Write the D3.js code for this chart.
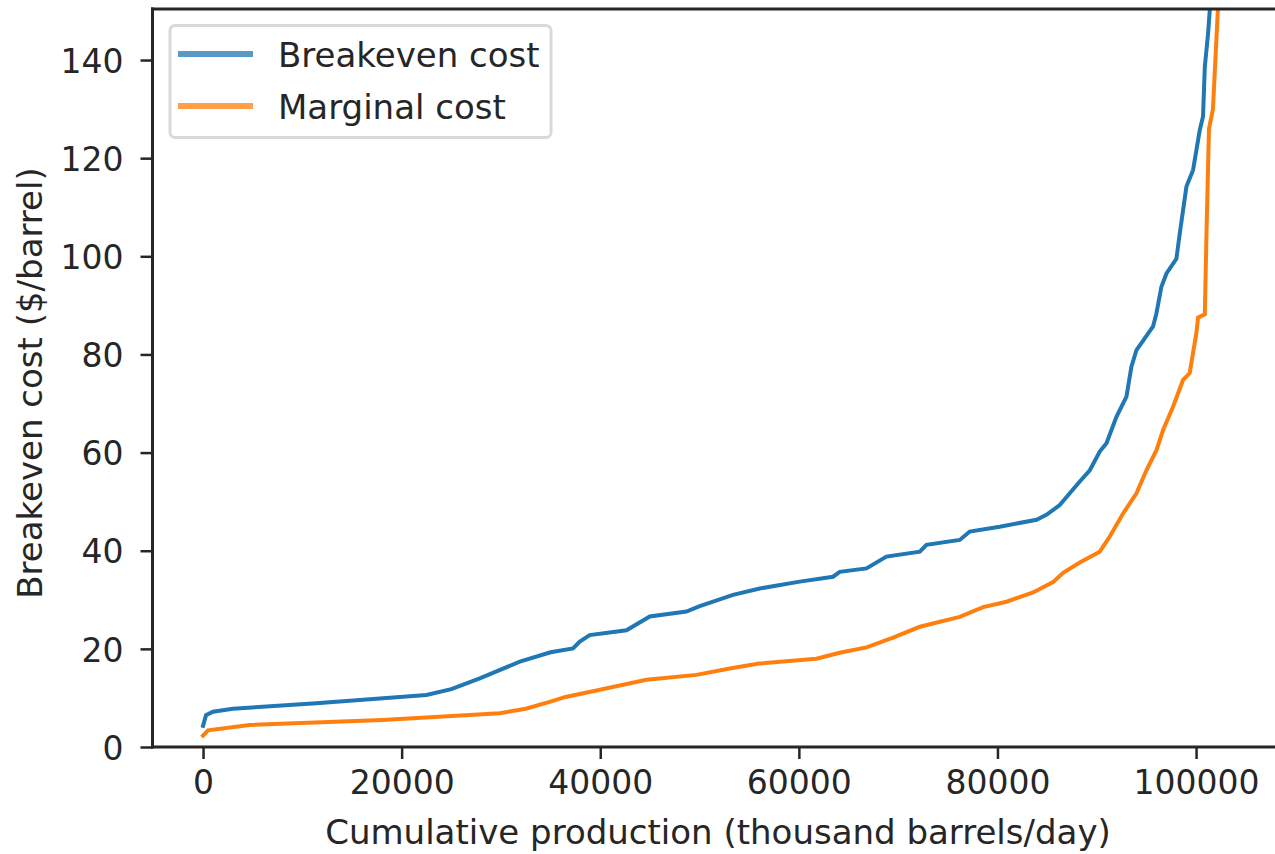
<!DOCTYPE html>
<html>
<head>
<meta charset="utf-8">
<script src="https://cdn.jsdelivr.net/npm/d3@7"></script>
<style>
  html, body { margin: 0; padding: 0; background: #fff; }
  svg { display: block; font-family: "DejaVu Sans", sans-serif; }
</style>
</head>
<body>
<svg id="chart" width="1275" height="854"></svg>
<script>
// Cumulative production (thousand barrels/day) and cost ($/barrel)
const breakevenX = [0, 300, 1000, 3000, 6000, 11400, 17800, 22500, 25000, 27870, 31900, 35000, 37260, 37940, 38940, 42640, 44990, 48680, 50020, 53370, 56060, 60090, 63440, 64120, 66810, 68820, 72180, 72850, 76200, 77210, 80230, 83930, 84930, 86270, 87280, 88290, 89300, 90300, 90980, 91980, 92990, 93490, 94000, 95670, 96010, 96510, 97020, 98020, 98360, 99030, 99700, 100370, 100700, 100880, 101210, 101380, 101600];
const breakevenY = [4.3, 6.5, 7.2, 7.8, 8.2, 8.9, 9.9, 10.6, 11.8, 14.0, 17.4, 19.3, 20.1, 21.5, 22.8, 23.8, 26.6, 27.6, 28.7, 31.0, 32.3, 33.7, 34.7, 35.7, 36.4, 38.8, 39.8, 41.2, 42.2, 43.9, 44.9, 46.3, 47.3, 49.3, 51.7, 54.1, 56.4, 60.2, 61.9, 67.3, 71.4, 77.5, 80.9, 85.7, 88.4, 93.8, 96.5, 99.5, 104.7, 114.2, 117.6, 125.7, 128.5, 138.6, 145.4, 150.2, 175];

const marginalX = [0, 500, 4700, 18100, 29880, 32500, 34910, 36500, 39620, 44650, 49690, 53040, 56000, 61770, 64120, 66810, 69490, 72180, 76200, 78560, 80910, 83590, 85600, 86610, 88290, 90300, 91310, 92650, 94000, 95000, 96010, 96680, 97690, 98690, 99360, 100040, 100200, 100880, 101050, 101300, 101700, 102200, 102400];
const marginalY = [2.3, 3.4, 4.5, 5.5, 6.9, 7.8, 9.2, 10.2, 11.5, 13.7, 14.7, 16.0, 17.0, 18.0, 19.2, 20.3, 22.3, 24.5, 26.5, 28.5, 29.6, 31.5, 33.6, 35.5, 37.6, 39.8, 42.9, 47.6, 51.7, 56.4, 60.5, 64.6, 69.4, 74.8, 76.2, 84.5, 87.5, 88.2, 104.7, 126, 130, 150.5, 175];

const seriesNames = ["Breakeven cost", "Marginal cost"];
const seriesColors = ["#1f77b4", "#ff7f0e"];
const legendColors = ["#5799c7", "#ff9f4a"];

const xTicks = [0, 20000, 40000, 60000, 80000, 100000];
const yTicks = [0, 20, 40, 60, 80, 100, 120, 140];

const xLabel = "Cumulative production (thousand barrels/day)";
const yLabel = "Breakeven cost ($/barrel)";

// Plot frame
const frame = { left: 152.5, right: 1277, top: 9, bottom: 747 };
const tickFont = 33;
const titleFont = 34;
const ink = "#262626";

const x = d3.scaleLinear().domain([-5090, 108150]).range([frame.left, frame.right]);
const y = d3.scaleLinear().domain([0, 150.4]).range([frame.bottom, frame.top]);

const svg = d3.select("#chart");

svg.append("defs").append("clipPath").attr("id", "plot-clip")
  .append("rect")
  .attr("x", frame.left).attr("y", frame.top)
  .attr("width", frame.right - frame.left).attr("height", frame.bottom - frame.top);

const series = [
  breakevenX.map((v, i) => [v, breakevenY[i]]),
  marginalX.map((v, i) => [v, marginalY[i]])
];

const line = d3.line().x(d => x(d[0])).y(d => y(d[1]));

const plot = svg.append("g").attr("clip-path", "url(#plot-clip)");
series.forEach((pts, i) => {
  plot.append("path")
    .datum(pts)
    .attr("d", line)
    .attr("fill", "none")
    .attr("stroke", seriesColors[i])
    .attr("stroke-width", 4)
    .attr("stroke-linejoin", "miter")
    .attr("stroke-linecap", "square");
});

// Axes
const xAxis = d3.axisBottom(x).tickValues(xTicks).tickFormat(d3.format("d"))
  .tickSizeOuter(0).tickSizeInner(12).tickPadding(10);
const yAxis = d3.axisLeft(y).tickValues(yTicks).tickFormat(d3.format("d"))
  .tickSizeOuter(0).tickSizeInner(12).tickPadding(17);

const gx = svg.append("g").attr("transform", `translate(0,${frame.bottom})`).call(xAxis);
const gy = svg.append("g").attr("transform", `translate(${frame.left},0)`).call(yAxis);

[gx, gy].forEach(g => {
  g.select(".domain").remove();
  g.selectAll(".tick line").attr("stroke", ink).attr("stroke-width", 2.5);
  g.selectAll(".tick text")
    .attr("fill", ink)
    .style("font-size", tickFont + "px")
    .style("font-family", "DejaVu Sans, sans-serif");
});
gx.selectAll(".tick text").attr("dy", "0.76em");
gy.selectAll(".tick text").attr("dy", "0.37em");

// Spines
const spines = svg.append("g").attr("stroke", ink).attr("stroke-width", 3).attr("fill", "none");
spines.append("line").attr("x1", frame.left).attr("x2", frame.left).attr("y1", frame.top - 1.5).attr("y2", frame.bottom + 1.5);
spines.append("line").attr("x1", frame.left - 1.5).attr("x2", frame.right).attr("y1", frame.bottom).attr("y2", frame.bottom);
spines.append("line").attr("x1", frame.left - 1.5).attr("x2", frame.right).attr("y1", frame.top).attr("y2", frame.top);
spines.append("line").attr("x1", frame.right).attr("x2", frame.right).attr("y1", frame.top).attr("y2", frame.bottom);

// Axis titles
svg.append("text")
  .attr("x", 718).attr("y", 844)
  .attr("text-anchor", "middle")
  .attr("fill", ink)
  .style("font-size", titleFont + "px")
  .text(xLabel);

svg.append("text")
  .attr("transform", "translate(42,383) rotate(-90)")
  .attr("text-anchor", "middle")
  .attr("fill", ink)
  .style("font-size", titleFont + "px")
  .text(yLabel);

// Legend
const legend = svg.append("g");
legend.append("rect")
  .attr("x", 170).attr("y", 25.5)
  .attr("width", 381).attr("height", 112)
  .attr("rx", 5).attr("ry", 5)
  .attr("fill", "#fff")
  .attr("stroke", "#d9d9d9")
  .attr("stroke-width", 3);

seriesNames.forEach((name, i) => {
  const ly = 54 + i * 52;
  legend.append("line")
    .attr("x1", 178).attr("x2", 253)
    .attr("y1", ly).attr("y2", ly)
    .attr("stroke", legendColors[i])
    .attr("stroke-width", 6);
  legend.append("text")
    .attr("x", 278).attr("y", ly + 12.5)
    .attr("fill", ink)
    .style("font-size", titleFont + "px")
    .text(name);
});
</script>
</body>
</html>
